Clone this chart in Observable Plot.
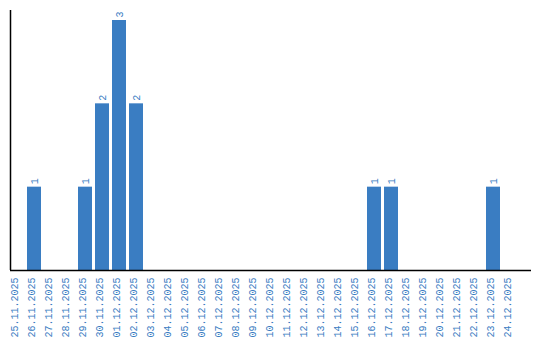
<!DOCTYPE html>
<html>
<head>
<meta charset="utf-8">
<script src="https://cdn.jsdelivr.net/npm/d3@7"></script>
<script src="https://cdn.jsdelivr.net/npm/@observablehq/plot@0.6"></script>
<style>
  html, body { margin: 0; padding: 0; background: #fff; }
  #chart svg { display: block; }
</style>
</head>
<body>
<div id="chart"></div>
<script>
const dates = [
  "25.11.2025", "26.11.2025", "27.11.2025", "28.11.2025", "29.11.2025",
  "30.11.2025", "01.12.2025", "02.12.2025", "03.12.2025", "04.12.2025",
  "05.12.2025", "06.12.2025", "07.12.2025", "08.12.2025", "09.12.2025",
  "10.12.2025", "11.12.2025", "12.12.2025", "13.12.2025", "14.12.2025",
  "15.12.2025", "16.12.2025", "17.12.2025", "18.12.2025", "19.12.2025",
  "20.12.2025", "21.12.2025", "22.12.2025", "23.12.2025", "24.12.2025"
];
const counts = [
  0, 1, 0, 0, 1,
  2, 3, 2, 0, 0,
  0, 0, 0, 0, 0,
  0, 0, 0, 0, 0,
  0, 1, 1, 0, 0,
  0, 0, 0, 1, 0
];

const blue = "#3a7dc2";
const data = dates.map((d, i) => ({date: d, count: counts[i]}));
const labelled = data.filter(d => d.count > 0);

const plot = Plot.plot({
  width: 540,
  height: 340,
  marginTop: 10,
  marginBottom: 70,
  marginLeft: 10,
  marginRight: 9,
  x: {domain: dates, range: [8.5, 518.5], paddingInner: 0.18, paddingOuter: 0.09, label: null},
  y: {domain: [0, 3.12], axis: null},
  marks: [
    Plot.barY(data, {x: "date", y: "count", fill: blue}),
    Plot.text(labelled, {
      x: "date", y: "count", text: d => String(d.count),
      rotate: -90, textAnchor: "start", dy: -3,
      fill: blue, fontSize: 10, fontFamily: "Liberation Mono"
    }),
    Plot.ruleY([0], {stroke: "#000", strokeWidth: 1.5}),
    Plot.axisX({
      tickSize: 0, tickPadding: 7, tickRotate: -90, label: null,
      fill: blue, fontSize: 10, fontFamily: "Liberation Mono", dx: -3
    })
  ]
});

const ys = plot.scale("y");
d3.select(plot).append("line")
  .attr("x1", 10.5).attr("x2", 10.5)
  .attr("y1", ys.apply(3.12)).attr("y2", ys.apply(0))
  .attr("stroke", "#000").attr("stroke-width", 1.5);

document.getElementById("chart").appendChild(plot);
</script>
</body>
</html>
